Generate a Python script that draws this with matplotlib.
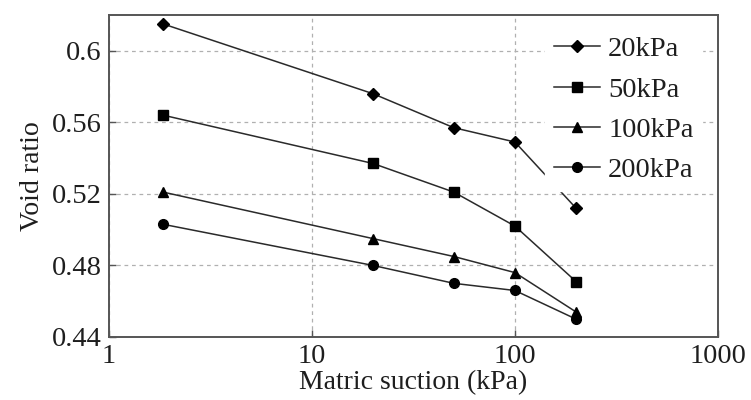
import matplotlib
matplotlib.use('Agg')
import matplotlib.pyplot as plt

plt.rcParams['font.family'] = ['Liberation Serif', 'DejaVu Serif']
plt.rcParams['mathtext.fontset'] = 'stix'

# matric suction (kPa) for each test point
suction = [1.85, 20, 50, 100, 200]

# void ratio under each net normal stress
e_20 = [0.615, 0.576, 0.557, 0.549, 0.512]
e_50 = [0.564, 0.537, 0.521, 0.502, 0.471]
e_100 = [0.521, 0.495, 0.485, 0.476, 0.454]
e_200 = [0.503, 0.480, 0.470, 0.466, 0.450]

series = [
    ('20kPa', e_20, 'D', 6.5),
    ('50kPa', e_50, 's', 7.5),
    ('100kPa', e_100, '^', 7.5),
    ('200kPa', e_200, 'o', 7),
]

INK = '#1e1e1e'
SPINE = '#555555'

fig = plt.figure(figsize=(7.51, 4.0), dpi=100, facecolor='white')
ax = fig.add_axes([0.145, 0.1575, 0.811, 0.805])

for label, e, m, ms in series:
    ax.plot(suction, e, color='#2a2a2a', linewidth=1.1, marker=m, markersize=ms,
            markerfacecolor='black', markeredgecolor='black', label=label, zorder=3)

ax.set_xscale('log')
ax.set_xlim(1, 1000)
ax.set_ylim(0.44, 0.62)
ax.set_xticks([1, 10, 100, 1000])
ax.set_xticklabels(['1', '10', '100', '1000'])
ax.set_yticks([0.44, 0.48, 0.52, 0.56, 0.6])
ax.set_yticklabels(['0.44', '0.48', '0.52', '0.56', '0.6'])
ax.minorticks_off()
ax.tick_params(direction='in', length=5, width=1, colors=SPINE,
               labelcolor=INK, labelsize=20.5, pad=5)
ax.grid(True, which='major', color='#b0b0b0', linestyle=(0, (3, 3)), linewidth=0.9)
for s in ax.spines.values():
    s.set_color(SPINE)
    s.set_linewidth(1.4)

ax.set_xlabel('Matric suction (kPa)', fontsize=20, color=INK, labelpad=1)
ax.set_ylabel('Void ratio', fontsize=20, color=INK, labelpad=5)

# white legend box hides the grid and the 20kPa segment behind it
leg = ax.legend(loc='upper right', bbox_to_anchor=(0.974, 0.96), fontsize=20.5,
                frameon=True, fancybox=False, framealpha=1, facecolor='white',
                edgecolor='white', handlelength=1.6, handletextpad=0.3,
                labelspacing=0.5, borderpad=0.3, borderaxespad=0)
leg.set_zorder(5)
for t in leg.get_texts():
    t.set_color(INK)

fig.savefig('out.png', dpi=100, facecolor='white')
plt.close()
